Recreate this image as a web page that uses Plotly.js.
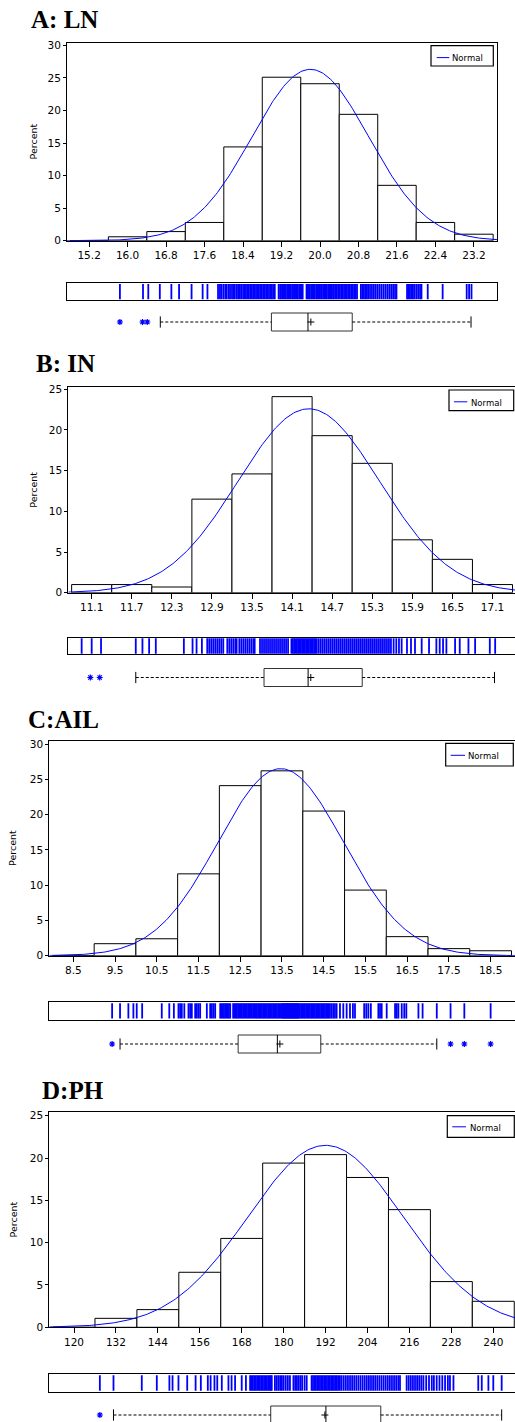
<!DOCTYPE html>
<html><head><meta charset="utf-8">
<script src="https://cdn.plot.ly/plotly-3.0.1.min.js"></script>
<style>html,body{margin:0;padding:0;background:#fff;overflow:hidden;width:515px;height:1422px}#chart{width:520px;height:1430px}</style>
</head><body><div id="chart"></div>
<script>
// ---------------- DATA ----------------
const titles = ["A: LN", "B: IN", "C:AIL", "D:PH"];
const yLabel = "Percent";
const legendText = "Normal";

// A: LN
const lnTicks = ["15.2","16.0","16.8","17.6","18.4","19.2","20.0","20.8","21.6","22.4","23.2"];
const lnPercent = [0, 0.6, 1.4, 2.8, 14.4, 25.1, 24.1, 19.4, 8.5, 2.8, 1.0];
const lnBinWidth = 0.8;
const lnNormal = [19.80, 1.213];            // mean, std dev of fitted curve
const lnQuartiles = [18.99, 19.75, 20.67];  // Q1, median, Q3
const lnMean = 19.81;
const lnWhiskers = [16.68, 23.14];
const lnOutliers = [15.84, 16.31, 16.41];
const lnRug = [15.84,16.32,16.43,16.67,16.91,17.07,17.33,17.56,17.66,
 17.88,17.92,17.95,17.99,18.03,18.06,18.10,18.13,18.17,18.20,18.23,18.27,18.30,18.33,18.36,18.40,18.43,18.46,18.49,18.52,18.55,18.58,18.61,18.64,18.67,18.70,18.73,18.76,18.79,18.82,
 18.85,18.88,18.91,18.94,18.97,19.00,19.03,19.06,19.14,19.17,19.19,19.22,19.24,19.27,19.29,19.32,19.34,19.37,19.39,19.42,19.44,19.47,19.49,19.52,19.54,19.57,19.59,19.62,19.64,
 19.72,19.74,19.77,19.79,19.82,19.84,19.87,19.89,19.92,19.94,19.97,19.99,20.02,20.04,20.07,20.09,20.12,20.14,20.17,20.19,20.22,20.24,20.27,20.29,20.32,20.35,20.38,20.41,20.44,20.47,20.50,20.53,20.56,20.59,20.62,20.65,20.68,20.71,20.74,20.77,
 20.85,20.88,20.91,20.94,20.97,21.00,21.04,21.08,21.12,21.16,21.20,21.24,21.28,21.32,21.36,21.40,21.44,21.48,21.52,21.56,21.59,
 21.81,21.84,21.87,21.90,21.93,21.96,22.00,22.04,22.08,22.11,22.24,22.55,23.05,23.10,23.15];

// B: IN
const inTicks = ["11.1","11.7","12.3","12.9","13.5","14.1","14.7","15.3","15.9","16.5","17.1"];
const inPercent = [1.0, 1.0, 0.7, 11.5, 14.6, 24.1, 19.3, 15.9, 6.5, 4.1, 1.0];
const inBinWidth = 0.6;
const inNormal = [14.35, 1.059];
const inQuartiles = [13.68, 14.34, 15.15];
const inMean = 14.38;
const inWhiskers = [11.76, 17.13];
const inOutliers = [11.08, 11.22];
const inRug = [10.95,11.10,11.24,11.76,11.86,11.96,12.06,12.48,12.61,12.67,12.75,
 12.83,12.86,12.89,12.92,12.95,12.98,13.01,13.04,13.07,13.13,13.16,13.19,13.22,13.25,13.27,
 13.31,13.34,13.37,13.40,13.43,13.46,13.49,13.52,13.54,
 13.62,13.65,13.68,13.71,13.74,13.77,13.80,13.83,13.86,13.89,13.92,13.95,13.98,14.01,14.04,
 14.09,14.11,14.13,14.15,14.17,14.19,14.21,14.23,14.25,14.27,14.29,14.31,14.33,14.35,14.37,14.39,14.41,14.43,14.45,14.47,14.50,14.53,14.56,14.59,14.62,14.65,14.68,14.71,14.74,14.77,14.80,14.83,14.86,14.89,14.92,14.95,14.98,15.01,15.04,15.07,15.10,15.13,15.16,15.19,15.22,15.25,15.28,15.31,15.34,15.37,15.40,15.43,15.46,15.49,15.52,15.55,15.58,15.62,15.66,15.70,15.74,
 15.82,15.88,15.94,16.04,16.15,16.26,16.31,16.36,16.41,16.54,16.61,16.74,16.84,17.06,17.14];

// C: AIL
const ailTicks = ["8.5","9.5","10.5","11.5","12.5","13.5","14.5","15.5","16.5","17.5","18.5"];
const ailPercent = [0, 1.7, 2.4, 11.6, 24.1, 26.2, 20.5, 9.3, 2.7, 1.0, 0.7];
const ailBinWidth = 1;
const ailNormal = [13.47, 1.505];
const ailQuartiles = [12.45, 13.39, 14.43];
const ailMean = 13.45;
const ailWhiskers = [9.62, 17.21];
const ailOutliers = [9.43, 17.54, 17.87, 18.50];
const ailRug = [9.43,9.62,9.82,9.94,10.02,10.15,10.62,10.80,10.91,11.02,11.06,11.10,11.16,11.26,11.30,11.34,11.42,11.46,11.50,11.54,11.70,11.78,11.82,11.86,11.90,
 12.02,12.05,12.08,12.11,12.14,12.17,12.20,12.23,12.26,12.33,12.36,12.39,12.42,12.45,12.48,12.51,12.54,12.57,12.60,12.63,12.66,12.69,12.72,12.75,12.78,12.81,12.84,12.87,12.90,12.93,12.96,12.99,
 13.02,13.05,13.08,13.11,13.14,13.17,13.20,13.23,13.26,13.29,13.32,13.35,13.38,13.41,13.44,13.47,13.50,13.52,13.54,13.56,13.58,13.60,13.62,13.64,13.66,13.68,13.70,13.72,13.74,13.76,13.78,13.80,13.82,13.84,13.86,13.88,13.90,13.93,13.96,13.99,
 14.02,14.05,14.08,14.11,14.14,14.17,14.20,14.23,14.26,14.29,14.32,14.35,14.38,14.41,14.44,14.47,14.50,14.53,14.56,14.59,14.62,14.65,14.69,14.73,14.77,14.81,
 14.89,14.97,15.05,15.13,15.20,15.25,15.47,15.52,15.57,15.63,15.81,15.85,15.89,16.01,16.21,16.25,16.29,16.37,16.43,16.48,16.77,16.87,17.21,17.54,17.87,18.50];

// D: PH
const phTicks = ["120","132","144","156","168","180","192","204","216","228","240"];
const phPercent = [0, 1.06, 2.09, 6.5, 10.5, 19.4, 20.4, 17.7, 13.9, 5.4, 3.07];
const phBinWidth = 12;
const phNormal = [192.0, 22.27];
const phQuartiles = [176.3, 192.1, 207.8];
const phMean = 191.8;
const phWhiskers = [131.3, 242.4];
const phOutliers = [127.4];
const phRug = [127.4,131.3,139.4,143.7,147.3,148.2,149.9,152.4,154.8,156.3,158.3,159.1,160.2,161.0,162.3,164.2,165.1,166.1,168.0,169.2,
 170.4,170.8,171.2,171.6,172.0,172.4,172.8,173.2,173.6,174.0,174.4,174.8,175.2,175.6,176.0,176.3,176.6,
 177.5,178.0,178.5,179.0,179.5,180.0,180.6,181.2,181.8,182.8,183.3,183.8,184.3,184.8,185.3,186.0,186.6,
 188.0,188.4,188.8,189.2,189.6,190.0,190.4,190.8,191.2,191.6,192.0,192.4,192.8,193.2,193.6,194.0,194.4,194.8,195.2,195.6,196.1,
 196.6,197.2,197.8,198.4,199.0,199.6,200.2,200.8,201.4,202.0,202.6,203.2,203.8,204.4,205.0,205.6,206.2,206.8,207.4,208.0,208.6,209.2,209.8,210.4,211.0,211.6,212.2,212.8,213.3,
 215.2,215.8,216.4,217.0,217.6,218.2,218.8,219.4,220.0,220.8,221.6,222.4,223.0,223.8,224.6,225.4,226.2,227.0,227.6,228.6,
 235.7,236.7,238.6,240.0,242.4];

// ---------------- LAYOUT GEOMETRY (pixels) ----------------
const W = 520, H = 1430;
const geo = [
 {left:67, right:497, hT:42.7, hB:240.7, rT:283.3, rB:300, bM:322, xr:[14.74,23.68], ytop:30.4,
  tx:30, ty:20, px:33.3, py:141.2, lg:[431,493.3,45.7,66, 436.7,449.3,57.6, 451.2]},
 {left:68.3, right:516, hT:386.7, hB:592.7, rT:637.7, rB:654.3, bM:677.5, xr:[10.75,17.452], ytop:25.32,
  tx:35, ty:364, px:34, py:489.7, lg:[449,513.7,390,410.7, 454,467.3,401.8, 470.2]},
 {left:49.3, right:516, hT:740.7, hB:955.7, rT:1001.7, rB:1020, bM:1044, xr:[7.925,19.108], ytop:30.47,
  tx:27.3, ty:719.5, px:13.2, py:847.8, lg:[445.7,513.3,743.3,766, 450.7,465,755.3, 467.2]},
 {left:49.3, right:516, hT:1112.3, hB:1327.3, rT:1374, rB:1392, bM:1415, xr:[112.93,246.5], ytop:25.4,
  tx:40.7, ty:1090.5, px:13.2, py:1219.2, lg:[447.3,514.3,1115.7,1137.3, 452.3,466,1126.8, 468.8]}
];
const series = [
 {ticks:lnTicks, pct:lnPercent, bw:lnBinWidth, nrm:lnNormal, q:lnQuartiles, mean:lnMean, wh:lnWhiskers, out:lnOutliers, rug:lnRug},
 {ticks:inTicks, pct:inPercent, bw:inBinWidth, nrm:inNormal, q:inQuartiles, mean:inMean, wh:inWhiskers, out:inOutliers, rug:inRug},
 {ticks:ailTicks, pct:ailPercent, bw:ailBinWidth, nrm:ailNormal, q:ailQuartiles, mean:ailMean, wh:ailWhiskers, out:ailOutliers, rug:ailRug},
 {ticks:phTicks, pct:phPercent, bw:phBinWidth, nrm:phNormal, q:phQuartiles, mean:phMean, wh:phWhiskers, out:phOutliers, rug:phRug}
];

const BLUE = '#0000ff';
const FONT = 'DejaVu Sans, Verdana, sans-serif';
const traces = [];
const layout = {
  width: W, height: H, margin: {l:0, r:0, t:0, b:0},
  paper_bgcolor: 'white', plot_bgcolor: 'white', showlegend: false,
  font: {family: FONT, size: 10.5, color: 'black'},
  annotations: [], shapes: []
};
const axKey = (c, n) => (n === 1 ? c + 'axis' : c + 'axis' + n);
const axRef = (c, n) => (n === 1 ? c : c + n);
const fx = p => p / W;
const fy = p => 1 - p / H;

series.forEach((s, i) => {
  const g = geo[i];
  const nH = i * 3 + 1, nR = i * 3 + 2, nB = i * 3 + 3;
  const mids = s.ticks.map(Number);
  const xa = (n) => ({xaxis: axRef('x', n), yaxis: axRef('y', n)});

  // histogram
  traces.push(Object.assign({type: 'bar', x: mids, y: s.pct, width: s.bw,
    marker: {color: 'white', line: {color: 'black', width: 1}}, hoverinfo: 'x+y'}, xa(nH)));
  // fitted normal curve
  const [mu, sd] = s.nrm;
  const cx = [], cy = [];
  const N = 300;
  for (let k = 0; k <= N; k++) {
    const x = g.xr[0] + (g.xr[1] - g.xr[0]) * k / N;
    cx.push(x);
    cy.push(100 * s.bw * Math.exp(-0.5 * ((x - mu) / sd) ** 2) / (sd * Math.sqrt(2 * Math.PI)));
  }
  traces.push(Object.assign({type: 'scatter', mode: 'lines', name: legendText, x: cx, y: cy,
    line: {color: BLUE, width: 1}}, xa(nH)));
  // rug
  traces.push(Object.assign({type: 'scatter', mode: 'markers', x: s.rug, y: s.rug.map(() => 0.5),
    marker: {symbol: 'line-ns-open', size: 11, color: BLUE, line: {color: BLUE, width: 1.8}}}, xa(nR)));
  // box plot
  const [q1, md, q3] = s.q, hb = 9;
  traces.push(Object.assign({type: 'scatter', mode: 'lines', x: [q1, q3, q3, q1, q1], y: [-hb, -hb, hb, hb, -hb],
    line: {color: '#333', width: 1}}, xa(nB)));
  traces.push(Object.assign({type: 'scatter', mode: 'lines', x: [md, md], y: [-hb, hb],
    line: {color: 'black', width: 1}}, xa(nB)));
  traces.push(Object.assign({type: 'scatter', mode: 'lines', x: [s.wh[0], q1, null, q3, s.wh[1]], y: [0, 0, null, 0, 0],
    line: {color: 'black', width: 1, dash: '3px,2px'}}, xa(nB)));
  traces.push(Object.assign({type: 'scatter', mode: 'markers', x: s.wh, y: [0, 0],
    marker: {symbol: 'line-ns-open', size: 8, color: 'black', line: {color: 'black', width: 1}}}, xa(nB)));
  traces.push(Object.assign({type: 'scatter', mode: 'markers', x: [s.mean], y: [0],
    marker: {symbol: 'cross-thin-open', size: 5, color: 'black', line: {color: 'black', width: 1}}}, xa(nB)));
  traces.push(Object.assign({type: 'scatter', mode: 'markers', x: s.out, y: s.out.map(() => 0),
    marker: {symbol: 'asterisk-open', size: 5, color: BLUE, line: {color: BLUE, width: 1.2}}}, xa(nB)));

  const xdom = [fx(g.left), fx(g.right)];
  // hist axes
  layout[axKey('x', nH)] = {domain: xdom, range: g.xr, anchor: axRef('y', nH),
    tickvals: mids, ticktext: s.ticks, ticks: 'outside', ticklen: 5, tickwidth: 1, tickcolor: 'black',
    showline: true, mirror: true, linecolor: 'black', linewidth: 1, showgrid: false, zeroline: false,
    tickfont: {size: 10.5}, fixedrange: true};
  layout[axKey('y', nH)] = {domain: [fy(g.hB), fy(g.hT)], range: [0, g.ytop], anchor: axRef('x', nH),
    tick0: 0, dtick: 5, ticks: 'outside', ticklen: 3, tickwidth: 1, tickcolor: 'black',
    showline: true, mirror: true, linecolor: 'black', linewidth: 1, showgrid: false, zeroline: false,
    tickfont: {size: 10.5}, fixedrange: true};
  // rug axes
  layout[axKey('x', nR)] = {domain: xdom, range: g.xr, anchor: axRef('y', nR), showticklabels: false, ticks: '',
    showline: true, mirror: true, linecolor: 'black', linewidth: 1, showgrid: false, zeroline: false};
  layout[axKey('y', nR)] = {domain: [fy(g.rB), fy(g.rT)], range: [0, 1], anchor: axRef('x', nR), showticklabels: false, ticks: '',
    showline: true, mirror: true, linecolor: 'black', linewidth: 1, showgrid: false, zeroline: false};
  // box axes
  layout[axKey('x', nB)] = {domain: xdom, range: g.xr, anchor: axRef('y', nB), visible: false};
  layout[axKey('y', nB)] = {domain: [fy(g.bM + 12), fy(g.bM - 12)], range: [-12, 12], anchor: axRef('x', nB), visible: false};

  // panel title
  layout.annotations.push({xref: 'paper', yref: 'paper', x: fx(g.tx), y: fy(g.ty), xanchor: 'left', yanchor: 'middle',
    text: '<b>' + titles[i] + '</b>', showarrow: false, borderpad: 0,
    font: {family: 'Liberation Serif, Times New Roman, serif', size: 25, color: 'black'}});
  // y label
  layout.annotations.push({xref: 'paper', yref: 'paper', x: fx(g.px), y: fy(g.py), xanchor: 'center', yanchor: 'middle',
    text: yLabel, textangle: -90, showarrow: false, font: {family: FONT, size: 9.5, color: 'black'}});
  // legend
  const L = g.lg;
  layout.shapes.push({type: 'rect', xref: 'paper', yref: 'paper', x0: fx(L[0]), x1: fx(L[1]), y0: fy(L[3]), y1: fy(L[2]),
    line: {color: 'black', width: 1.2}, fillcolor: 'white'});
  layout.shapes.push({type: 'line', xref: 'paper', yref: 'paper', x0: fx(L[4]), x1: fx(L[5]), y0: fy(L[6]), y1: fy(L[6]),
    line: {color: BLUE, width: 1}});
  layout.annotations.push({xref: 'paper', yref: 'paper', x: fx(L[7]), y: fy(L[6] + 0.8), xanchor: 'left', yanchor: 'middle',
    text: legendText, showarrow: false, borderpad: 0, font: {family: FONT, size: 8.5, color: 'black'}});
});

Plotly.newPlot('chart', traces, layout, {staticPlot: true, displayModeBar: false});
</script>
</body></html>
